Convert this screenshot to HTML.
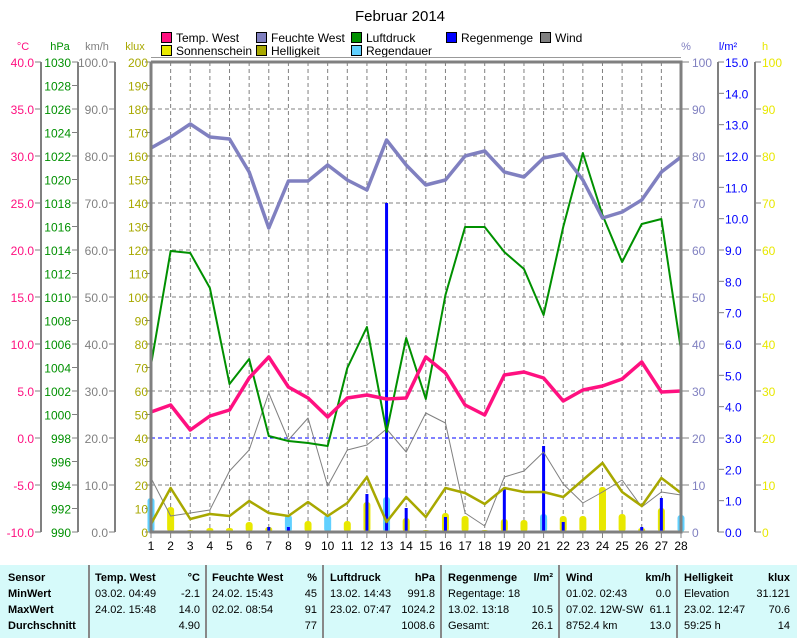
<!DOCTYPE html>
<html><head><meta charset="utf-8"><style>
body{margin:0;background:#fff;width:797px;height:638px;overflow:hidden;font-family:"Liberation Sans",sans-serif}
#tbl{position:absolute;left:0;top:565px;width:797px;height:73px;background:#d6fafa}
.c{position:absolute;font-size:11px;color:#000;white-space:nowrap}
.b{font-weight:bold}
.sep{position:absolute;top:565px;width:2px;height:73px;background:#888}
</style></head><body>
<svg id="s" width="797" height="565" style="position:absolute;left:0;top:0" xmlns="http://www.w3.org/2000/svg" font-family="Liberation Sans, sans-serif" font-size="12"></svg>
<div id="tbl"></div>
<script>
var s=document.getElementById('s'),h='';
var L=151,R=681,T=62,B=532,dx=(R-L)/27;
function X(d){return L+(d-1)*dx}
function t(x,y,txt,col,anc,sz){h+='<text x="'+x+'" y="'+y+'" fill="'+col+'" text-anchor="'+(anc||'start')+'" font-size="'+(sz||12)+'">'+txt+'</text>'}
t(400,21,'Februar 2014','#000','middle',15);
var lg=[[162,33,'#ff1080','Temp. West'],[257,33,'#8080c0','Feuchte West'],[352,33,'#009000','Luftdruck'],[447,33,'#0000ff','Regenmenge'],[541,33,'#808080','Wind'],[162,46,'#e8e800','Sonnenschein'],[257,46,'#a8a800','Helligkeit'],[352,46,'#60d0ff','Regendauer']];
lg.forEach(function(a){h+='<rect x="'+(a[0]-0.5)+'" y="'+(a[1]-0.5)+'" width="10" height="10" fill="'+a[2]+'" stroke="#000"/>';t(a[0]+14,a[1]+9,a[3],'#000','start',12)});
h+='<line x1="151" y1="57.5" x2="681" y2="57.5" stroke="#999"/>';
for(var d=2;d<=27;d++)h+='<line x1="'+X(d)+'" y1="'+T+'" x2="'+X(d)+'" y2="'+B+'" stroke="#808080" stroke-dasharray="4,3"/>';
for(var i=1;i<10;i++){var y=T+i*47;h+='<line x1="'+L+'" y1="'+y+'" x2="'+R+'" y2="'+y+'" stroke="#808080" stroke-dasharray="4,3"/>'}
h+='<line x1="'+L+'" y1="438" x2="'+R+'" y2="438" stroke="#0000ff" stroke-dasharray="4,3"/>';
function ax(x,col,lab,n,f,title,right){h+='<line x1="'+x+'" y1="'+T+'" x2="'+x+'" y2="'+B+'" stroke="#808080" stroke-width="2"/>';
 for(var i=0;i<=n;i++){var y=T+i*470/n;h+='<line x1="'+(right?x:x-6)+'" y1="'+y+'" x2="'+(right?x+6:x)+'" y2="'+y+'" stroke="#808080"/>';
 var v=f(i);if(v!==null)t(right?x+7:x-7,y+5,v,col,right?'start':'end',12)}
 t(right?x+10:x-18,50,title,col,'middle',11)}
ax(41,'#ff1080',10,10,function(i){return (40-i*5).toFixed(1)},'°C');
ax(78,'#009000',0,20,function(i){return 1030-i*2},'hPa');
ax(115,'#808080',0,10,function(i){return (100-i*10).toFixed(1)},'km/h');
for(var i=0;i<=20;i++){var y=T+i*23.5;h+='<line x1="145" y1="'+y+'" x2="151" y2="'+y+'" stroke="#808080"/>';t(148,y+5,200-i*10,'#a8a800','end',12)}
t(135,50,'klux','#a8a800','middle',11);
for(var i=0;i<=10;i++){var y=T+i*47;h+='<line x1="681" y1="'+y+'" x2="689" y2="'+y+'" stroke="#808080"/>';t(692,y+5,100-i*10,'#8080c0','start',12)}
t(686,50,'%','#8080c0','middle',11);
ax(718,'#0000ff',0,15,function(i){return (15-i).toFixed(1)},'l/m²',true);
ax(755,'#e8e800',0,10,function(i){return 100-i*10},'h',true);
function bar(d,y,w,col,dx2){h+='<rect x="'+(X(d)-w/2+(dx2||0))+'" y="'+y+'" width="'+w+'" height="'+(B-y)+'" fill="'+col+'" rx="'+(w>4?3:0)+'"/>'}
var sun={2:507,3:530,4:528,5:528,6:522,7:527,9:521,10:530,11:521,12:502,14:518,15:530,16:513,17:516,18:530,19:519,20:520,21:516,22:516,23:516,24:487,25:514,26:528,27:508,28:525};
for(var k in sun)bar(+k,sun[k],7,'#e8e800');
var dur={1:498,8:515,10:515,13:497,21:514,28:515};
for(var k in dur)bar(+k,dur[k],7,'#60d0ff');
var rain={1:340,7:527,8:527,12:494,13:203,14:508,16:517,19:488,21:446,22:522,26:527,27:498,28:493};
for(var k in rain)h+='<rect x="'+(X(+k)-1.5)+'" y="'+rain[k]+'" width="3" height="'+(B-rain[k])+'" fill="#0000ff"/>';
function line(a,col,w){h+='<polyline fill="none" stroke="'+col+'" stroke-width="'+w+'" stroke-linejoin="round" points="'+a.map(function(y,i){return X(i+1)+','+y}).join(' ')+'"/>'}
line([478,516,513,510,471,450,393,440,418,486,450,445,429,452,413,423,513,526,477,471,452,484,503,492,480,507,492,495],'#808080',1);
line([524,488,519,514,516,501,513,516,502,516,503,477,522,497,517,488,493,504,488,492,492,497,480,463,492,506,478,493],'#a8a800',2.5);
line([365,251,253,288,384,359,436,441,443,446,368,327,432,338,399,295,227,227,252,269,315,227,153,215,262,224,219,350],'#009000',2);
line([148,137,124,137,139,172,228,181,181,165,180,190,140,165,185,180,156,151,172,177,158,154,180,218,212,200,172,157],'#8080c0',3.5);
line([412,405,430,416,410,378,357,387,398,417,398,395,399,398,357,373,405,415,375,372,378,401,390,386,379,362,392,391],'#ff1080',3.5);
h+='<polyline fill="none" stroke="#808080" stroke-width="3" points="151,62 681,62 681,532 151,532 151,62"/>';
for(var d=1;d<=28;d++){h+='<line x1="'+X(d)+'" y1="532" x2="'+X(d)+'" y2="538" stroke="#808080"/>';t(X(d),550,d,'#000','middle',12)}
s.innerHTML=h;
var tb=document.getElementById('tbl'),q='';
function c(x,y,txt,b,r){q+='<div class="c'+(b?' b':'')+'" style="'+(r?'right:'+(797-x):'left:'+x)+'px;top:'+(y-565)+'px">'+txt+'</div>'}
[88,205,322,440,558,676].forEach(function(x){document.body.insertAdjacentHTML('beforeend','<div class="sep" style="left:'+x+'px"></div>')});
var rows=[572,588,604,620];
c(8,rows[0],'Sensor',1);c(8,rows[1],'MinWert',1);c(8,rows[2],'MaxWert',1);c(8,rows[3],'Durchschnitt',1);
var cols=[[95,200,'Temp. West','°C',['03.02.  04:49','24.02.  15:48',''],['-2.1','14.0','4.90']],
[212,317,'Feuchte West','%',['24.02.  15:43','02.02.  08:54',''],['45','91','77']],
[330,435,'Luftdruck','hPa',['13.02.  14:43','23.02.  07:47',''],['991.8','1024.2','1008.6']],
[448,553,'Regenmenge','l/m²',['Regentage: 18','13.02.  13:18','Gesamt:'],['','10.5','26.1']],
[566,671,'Wind','km/h',['01.02.  02:43','07.02.  12W-SW','8752.4 km'],['0.0','61.1','13.0']],
[684,790,'Helligkeit','klux',['Elevation','23.02.  12:47','59:25 h'],['31.121','70.6','14']]];
cols.forEach(function(k){c(k[0],rows[0],k[2],1);c(k[1],rows[0],k[3],1,1);for(var i=0;i<3;i++){c(k[0],rows[i+1],k[4][i]);c(k[1],rows[i+1],k[5][i],0,1)}});
tb.innerHTML=q;
</script>
</body></html>
